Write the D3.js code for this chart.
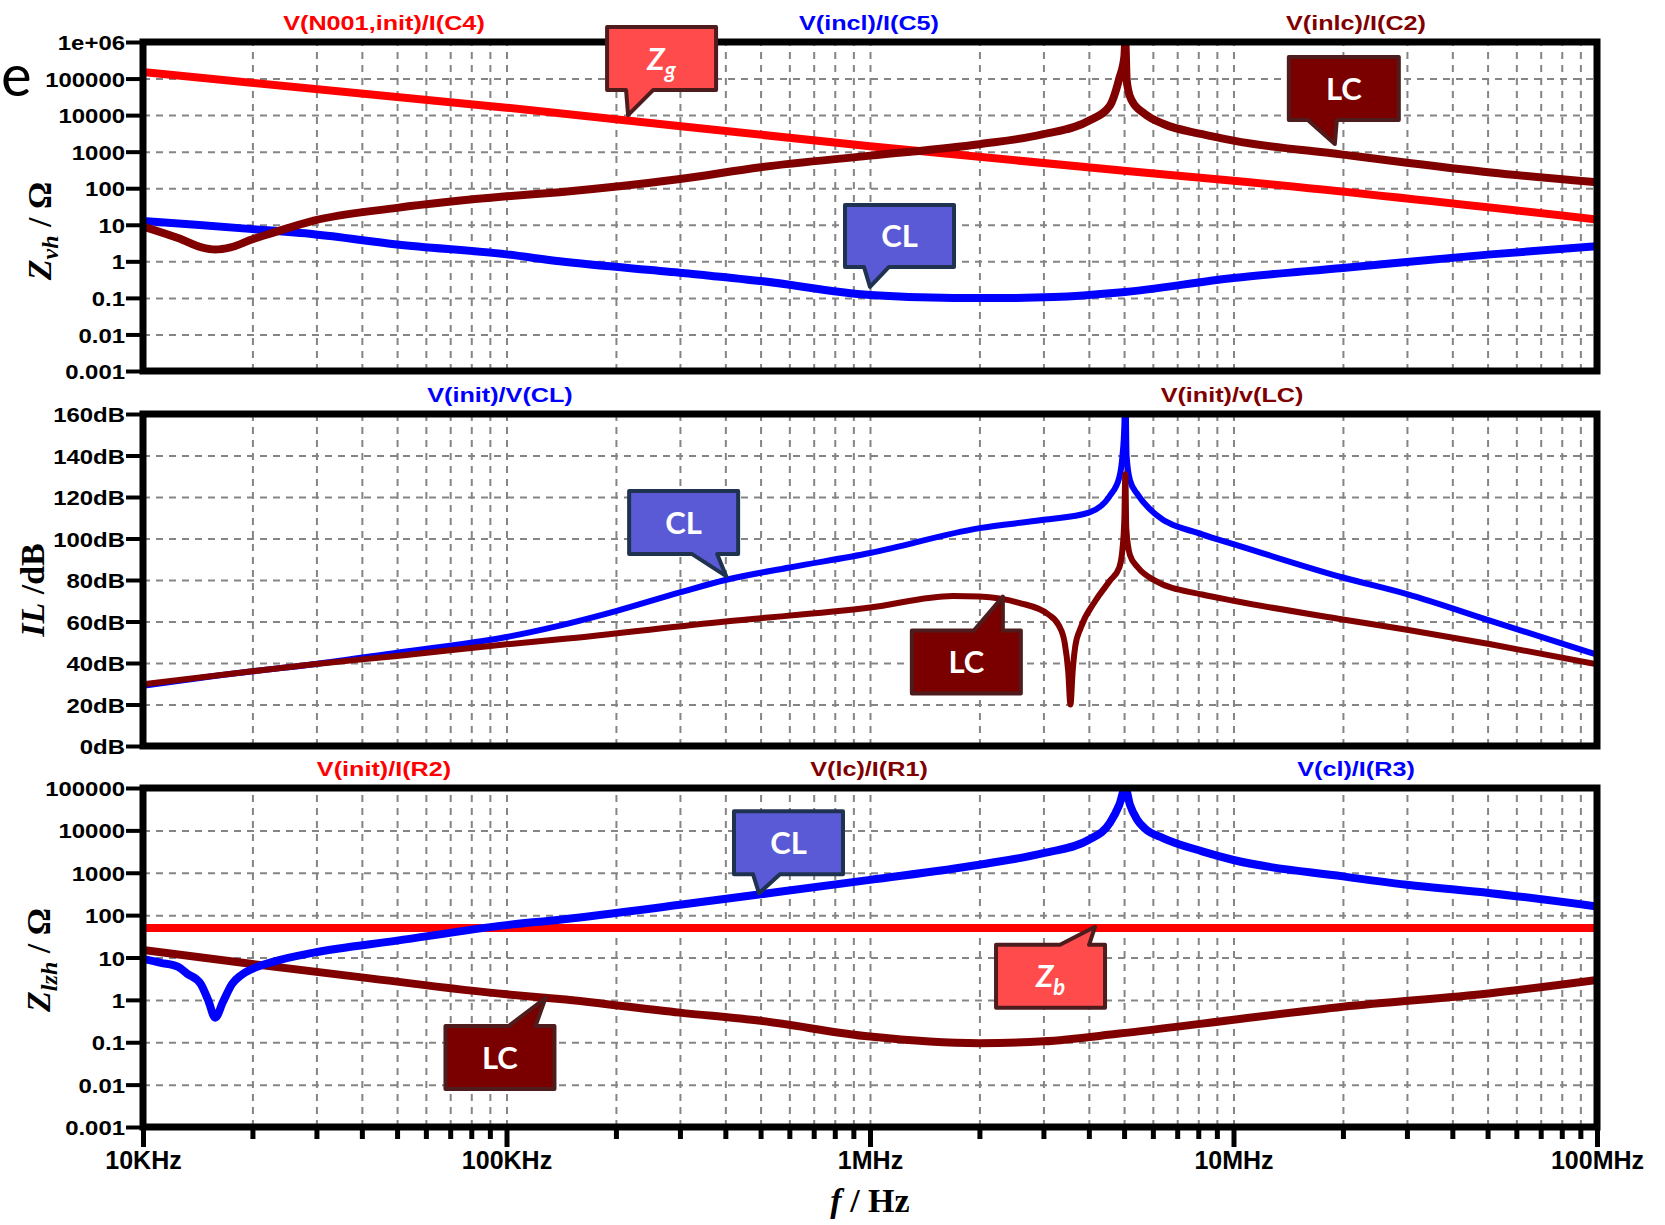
<!DOCTYPE html>
<html lang="en">
<head>
<meta charset="UTF-8">
<title>Zvh / IL / Zlzh</title>
<script src="https://cdn.jsdelivr.net/npm/d3@7/dist/d3.min.js"></script>
<style>
    body { margin: 0; background: #ffffff; }
    svg text { font-family: "Liberation Sans", Arial, sans-serif; }
</style>
</head>
<body>
<svg width="1665" height="1225"></svg>
<script>

    // shared frequency axis
    var freqDomain = [1e4, 1e8];
    var freqMajor = [1e4, 1e5, 1e6, 1e7, 1e8];
    var freqLabels = ["10KHz", "100KHz", "1MHz", "10MHz", "100MHz"];

    // panel 1: Zvh / ohm
    var zvhTicks = [1e-3, 1e-2, 1e-1, 1, 10, 100, 1e3, 1e4, 1e5, 1e6];
    var zvhLabels = ["0.001", "0.01", "0.1", "1", "10", "100", "1000", "10000", "100000", "1e+06"];
    // V(N001,init)/I(C4)
    var zgCurve = [[1e4, 150000], [1e5, 16000], [1e6, 1400], [5e6, 300], [1e7, 160], [1e8, 14]];
    // V(incl)/I(C5)
    var zvhClCurve = [[1e4, 12.6], [14e3, 10], [20e3, 7.6], [29.5e3, 5.5], [50e3, 2.9], [100e3, 1.55],
        [140e3, 1.0], [300e3, 0.49], [500e3, 0.29], [1e6, 0.12], [1.7e6, 0.1], [2.5e6, 0.1],
        [3.2e6, 0.105], [4.85e6, 0.14], [10e6, 0.35], [20e6, 0.66], [51e6, 1.55], [100e6, 2.6]];
    // V(inlc)/I(C2)
    var zvhLcCurve = [[1e4, 9], [12.6e3, 4.2], [14.5e3, 2.4], [15.8e3, 2.1], [17.4e3, 2.4], [20e3, 4],
        [22.5e3, 5.8], [29.5e3, 13], [50e3, 29], [100e3, 60], [140e3, 78], [300e3, 178], [500e3, 375],
        [1e6, 780], [2e6, 1600], [3e6, 3000], [4e6, 7000], [4.57e6, 18000], [4.85e6, 100000],
        [5.01e6, 400000], [5.04e6, 1e6], [5.08e6, 100000], [5.13e6, 50000], [5.25e6, 25000],
        [5.71e6, 10700], [6.4e6, 5800], [8.2e6, 3000], [10e6, 2000], [20e6, 830], [30e6, 500],
        [51e6, 270], [100e6, 145]];

    // panel 2: insertion loss / dB
    var ilTicks = [0, 20, 40, 60, 80, 100, 120, 140, 160];
    var ilLabels = ["0dB", "20dB", "40dB", "60dB", "80dB", "100dB", "120dB", "140dB", "160dB"];
    // V(init)/V(CL)
    var ilClCurve = [[1e4, 29], [20e3, 36], [29.5e3, 39.4], [50e3, 45], [100e3, 52.5], [140e3, 58],
        [200e3, 65], [300e3, 74], [400e3, 80], [600e3, 86], [1e6, 93], [2e6, 105], [3e6, 109],
        [4e6, 112.5], [4.57e6, 120.6], [4.85e6, 129.4], [4.95e6, 140], [5.01e6, 155], [5.04e6, 175],
        [5.08e6, 140], [5.19e6, 128], [5.46e6, 121], [6.1e6, 111.7], [8.2e6, 102], [10e6, 97.3],
        [20e6, 81.2], [30e6, 73.2], [51e6, 60.3], [100e6, 44]];
    // V(init)/v(LC)
    var ilLcCurve = [[1e4, 29.7], [20e3, 36], [29.5e3, 39.4], [50e3, 43.4], [100e3, 49], [140e3, 51.4],
        [400e3, 60], [1e6, 66.7], [1.69e6, 72.3], [2e6, 72], [2.57e6, 69], [3.09e6, 63.5], [3.31e6, 58],
        [3.43e6, 50], [3.51e6, 36], [3.56e6, 20], [3.61e6, 36], [3.67e6, 48], [3.8e6, 57], [4.17e6, 70],
        [4.57e6, 79.6], [4.85e6, 86], [4.95e6, 95], [5.01e6, 110], [5.04e6, 131], [5.07e6, 105],
        [5.19e6, 92], [5.46e6, 86], [6.1e6, 79.6], [8.2e6, 73], [10e6, 70], [20e6, 61], [30e6, 56],
        [51e6, 49], [100e6, 39.4]];

    // panel 3: Zlzh / ohm
    var zlzhTicks = [1e-3, 1e-2, 1e-1, 1, 10, 100, 1e3, 1e4, 1e5];
    var zlzhLabels = ["0.001", "0.01", "0.1", "1", "10", "100", "1000", "10000", "100000"];
    // V(init)/I(R2)
    var zbCurve = [[1e4, 50], [1e8, 50]];
    // V(lc)/I(R1)
    var zlzhLcCurve = [[1e4, 15], [20e3, 7], [40e3, 3.4], [100e3, 1.35], [140e3, 1.05], [300e3, 0.5],
        [500e3, 0.32], [1e6, 0.136], [2e6, 0.095], [3e6, 0.105], [4.85e6, 0.16], [10e6, 0.34],
        [20e6, 0.69], [51e6, 1.44], [100e6, 2.96]];
    // V(cl)/I(R3)
    var zlzhClCurve = [[1e4, 9.2], [11.2e3, 7.5], [12.5e3, 6], [13.2e3, 4.2], [14.4e3, 2.4], [15.1e3, 1.0],
        [15.8e3, 0.38], [16.6e3, 0.9], [17.6e3, 2.4], [18.6e3, 3.8], [20e3, 5.4], [22.9e3, 8],
        [29.5e3, 13], [50e3, 25], [100e3, 58], [140e3, 78], [300e3, 175], [500e3, 310], [1e6, 680],
        [2e6, 1550], [3e6, 2900], [4e6, 6000], [4.57e6, 15000], [4.85e6, 40000], [5.04e6, 100000],
        [5.19e6, 40000], [5.43e6, 18000], [5.71e6, 11000], [6.4e6, 6600], [8.2e6, 3200], [10e6, 2000],
        [20e6, 820], [30e6, 520], [51e6, 330], [100e6, 160]];

    var RED = "#ff0000", BLUE = "#0000ff", DARK = "#800000";

    var svg = d3.select("svg");
    var left = 143, right = 1597;
    var x = d3.scaleLog().domain(freqDomain).range([left, right]);

    // grid frequencies 2..9 x 10^k and the inner decades
    var gridFreqs = [];
    [1e4, 1e5, 1e6, 1e7].forEach(function (dec) {
        for (var m = 1; m <= 9; m++) {
            if (dec * m > 1e4) gridFreqs.push(dec * m);
        }
    });
    gridFreqs.push(1e8);
    var minorFreqs = gridFreqs.filter(function (f) { return freqMajor.indexOf(f) < 0; });

    var panels = [
        {
            top: 42, bottom: 371, y: d3.scaleLog().domain([1e-3, 1e6]),
            ticks: zvhTicks, labels: zvhLabels, lineW: 8,
            series: [{d: zgCurve, c: RED}, {d: zvhClCurve, c: BLUE}, {d: zvhLcCurve, c: DARK}],
            titles: [{t: "V(N001,init)/I(C4)", x: 384, c: RED}, {t: "V(incl)/I(C5)", x: 869, c: BLUE},
                {t: "V(inlc)/I(C2)", x: 1356, c: DARK}],
            callouts: [
                {f: 216e3, v: 1e4, box: [-21, -88, 109, 63], base: [-2, 25], kind: "zg", sub: "g"},
                {f: 19e6, v: 1620, box: [-46, -87, 110, 63], base: [-27, 2], kind: "lc"},
                {f: 1e6, v: 0.2, box: [-25, -82, 109, 62], base: [-6, 19], kind: "cl"}
            ]
        },
        {
            top: 414, bottom: 746, y: d3.scaleLinear().domain([0, 160]),
            ticks: ilTicks, labels: ilLabels, lineW: 6,
            series: [{d: ilClCurve, c: BLUE}, {d: ilLcCurve, c: DARK}],
            titles: [{t: "V(init)/V(CL)", x: 500, c: BLUE}, {t: "V(init)/v(LC)", x: 1232, c: DARK}],
            callouts: [
                {f: 402e3, v: 81.9, box: [-97, -85, 109, 63], base: [-34, -9], kind: "cl"},
                {f: 2.32e6, v: 72, box: [-91, 34, 109, 63], base: [-29, 0], kind: "lc"}
            ]
        },
        {
            top: 788, bottom: 1127, y: d3.scaleLog().domain([1e-3, 1e5]),
            ticks: zlzhTicks, labels: zlzhLabels, lineW: 8,
            series: [{d: zbCurve, c: RED}, {d: zlzhLcCurve, c: DARK}, {d: zlzhClCurve, c: BLUE}],
            titles: [{t: "V(init)/I(R2)", x: 384, c: RED}, {t: "V(lc)/I(R1)", x: 869, c: DARK},
                {t: "V(cl)/I(R3)", x: 1356, c: BLUE}],
            callouts: [
                {f: 495e3, v: 330, box: [-25, -82, 109, 63], base: [-6, 21], kind: "cl"},
                {f: 4.16e6, v: 53, box: [-99, 18, 109, 63], base: [-35, -6], kind: "zg", sub: "b"},
                {f: 128e3, v: 1.1, box: [-100, 28, 109, 63], base: [-37, -10], kind: "lc"}
            ]
        }
    ];

    var calloutStyle = {
        zg: {fill: "#ff4b4b", stroke: "#4e1c1c"},
        lc: {fill: "#7a0000", stroke: "#4e1c1c"},
        cl: {fill: "#5a5ad6", stroke: "#1f3350"}
    };

    var lineGen = d3.line().curve(d3.curveMonotoneX);

    panels.forEach(function (p, pi) {
        p.y.range([p.bottom, p.top]);
        var g = svg.append("g");
        var h = p.bottom - p.top;

        // dashed grid
        g.append("g")
            .attr("transform", "translate(0," + p.bottom + ")")
            .call(d3.axisBottom(x).tickValues(gridFreqs.slice(0, -1)).tickSize(-h).tickFormat(""))
            .call(function (a) { a.select(".domain").remove(); });
        g.append("g")
            .attr("transform", "translate(" + left + ",0)")
            .call(d3.axisLeft(p.y).tickValues(p.ticks.slice(1, -1)).tickSize(-(right - left)).tickFormat(""))
            .call(function (a) { a.select(".domain").remove(); });
        g.selectAll(".tick line")
            .attr("stroke", "#858585")
            .attr("stroke-width", 2)
            .attr("stroke-dasharray", "7,6");

        // traces
        var clipId = "clip" + pi;
        svg.append("clipPath").attr("id", clipId)
            .append("rect").attr("x", left).attr("y", p.top).attr("width", right - left).attr("height", h);
        g.append("g").attr("clip-path", "url(#" + clipId + ")")
            .selectAll("path")
            .data(p.series)
            .enter()
            .append("path")
            .attr("d", function (s) {
                return lineGen(s.d.map(function (d) { return [x(d[0]), p.y(d[1])]; }));
            })
            .attr("fill", "none")
            .attr("stroke", function (s) { return s.c; })
            .attr("stroke-width", p.lineW)
            .attr("stroke-linejoin", "round");

        // frame
        g.append("rect")
            .attr("x", left).attr("y", p.top)
            .attr("width", right - left).attr("height", h)
            .attr("fill", "none").attr("stroke", "#000").attr("stroke-width", 7);

        // left axis ticks + labels
        var ya = g.append("g")
            .attr("transform", "translate(" + left + ",0)")
            .call(d3.axisLeft(p.y).tickValues(p.ticks).tickSize(17)
                .tickFormat(function (d, i) { return p.labels[i]; }));
        ya.select(".domain").remove();
        ya.selectAll(".tick line").attr("stroke", "#000").attr("stroke-width", 4);
        ya.selectAll(".tick text")
            .attr("x", -18 / 1.14)
            .attr("dy", "0.36em")
            .attr("transform", "scale(1.14,1)")
            .attr("fill", "#000")
            .style("font-size", "21px")
            .style("font-weight", "bold")
            .style("font-family", "'Liberation Sans', Arial, sans-serif");

        // trace names above the panel
        g.selectAll(".title")
            .data(p.titles)
            .enter()
            .append("text")
            .attr("transform", function (t) { return "translate(" + t.x + "," + (p.top - 12) + ") scale(1.2,1)"; })
            .attr("text-anchor", "middle")
            .attr("fill", function (t) { return t.c; })
            .style("font-size", "21px")
            .style("font-weight", "bold")
            .text(function (t) { return t.t; });

        // speech-bubble callouts
        p.callouts.forEach(function (c) {
            var px = x(c.f), py = p.y(c.v);
            var bx = px + c.box[0], by = py + c.box[1], bw = c.box[2], bh = c.box[3];
            var b1 = px + c.base[0], b2 = px + c.base[1];
            var d;
            if (c.box[1] < 0) {
                var yb = by + bh;
                d = "M" + bx + "," + by + "H" + (bx + bw) + "V" + yb + "H" + b2 +
                    "L" + px + "," + py + "L" + b1 + "," + yb + "H" + bx + "Z";
            } else {
                d = "M" + bx + "," + by + "H" + b1 + "L" + px + "," + py + "L" + b2 + "," + by +
                    "H" + (bx + bw) + "V" + (by + bh) + "H" + bx + "Z";
            }
            var st = calloutStyle[c.kind];
            g.append("path").attr("d", d)
                .attr("fill", st.fill).attr("stroke", st.stroke)
                .attr("stroke-width", 4).attr("stroke-linejoin", "round");
            var t = g.append("text")
                .attr("x", bx + bw / 2).attr("y", by + bh / 2 + 11)
                .attr("text-anchor", "middle")
                .attr("fill", "#fff")
                .style("font-family", "Lato, 'Open Sans', sans-serif")
                .style("font-weight", "bold")
                .style("font-size", "31px");
            if (c.kind === "zg") {
                t.append("tspan").style("font-style", "italic").text("Z");
                t.append("tspan").style("font-style", "italic").style("font-size", "22px")
                    .attr("dy", 8).text(c.sub);
            } else {
                t.text(c.kind === "lc" ? "LC" : "CL");
            }
        });
    });

    // bottom frequency axis (panel 3)
    var bottom = panels[2].bottom;
    var minorAxis = svg.append("g").attr("transform", "translate(0," + bottom + ")")
        .call(d3.axisBottom(x).tickValues(minorFreqs).tickSize(12).tickFormat(""));
    var majorAxis = svg.append("g").attr("transform", "translate(0," + bottom + ")")
        .call(d3.axisBottom(x).tickValues(freqMajor).tickSize(20).tickPadding(4)
            .tickFormat(function (d, i) { return freqLabels[i]; }));
    [minorAxis, majorAxis].forEach(function (a) {
        a.select(".domain").remove();
        a.selectAll(".tick line").attr("stroke", "#000").attr("stroke-width", 5);
    });
    majorAxis.selectAll(".tick text")
        .attr("fill", "#000")
        .style("font-size", "25px")
        .style("font-weight", "bold")
        .style("font-family", "'Liberation Sans', Arial, sans-serif");

    // axis titles
    function mathTitle(tx, ty, rot, parts) {
        var t = svg.append("text")
            .attr("transform", "translate(" + tx + "," + ty + ")" + (rot ? " rotate(-90)" : ""))
            .attr("text-anchor", "middle")
            .style("font-family", "'Liberation Serif', 'DejaVu Serif', serif")
            .style("font-weight", "bold")
            .style("font-size", "34px")
            .attr("fill", "#000");
        parts.forEach(function (q) {
            var s = t.append("tspan").text(q.t).style("font-style", q.i ? "italic" : "normal");
            if (q.sub) s.style("font-size", "24px").attr("dy", 7);
            if (q.back) s.attr("dy", -7);
        });
    }
    mathTitle(51, 231, true, [{t: "Z", i: true}, {t: "vh", i: true, sub: true}, {t: " / Ω", back: true}]);
    mathTitle(44, 590, true, [{t: "IL", i: true}, {t: " /dB"}]);
    mathTitle(50, 960, true, [{t: "Z", i: true}, {t: "lzh", i: true, sub: true}, {t: " / Ω", back: true}]);
    mathTitle(870, 1212, false, [{t: "f", i: true}, {t: " / Hz"}]);

    // stray glyph at the top-left edge of the figure
    svg.append("text")
        .attr("x", 1).attr("y", 96)
        .style("font-family", "Lato, 'Open Sans', sans-serif")
        .style("font-size", "58px")
        .attr("fill", "#000")
        .text("e");

</script>
</body>
</html>
